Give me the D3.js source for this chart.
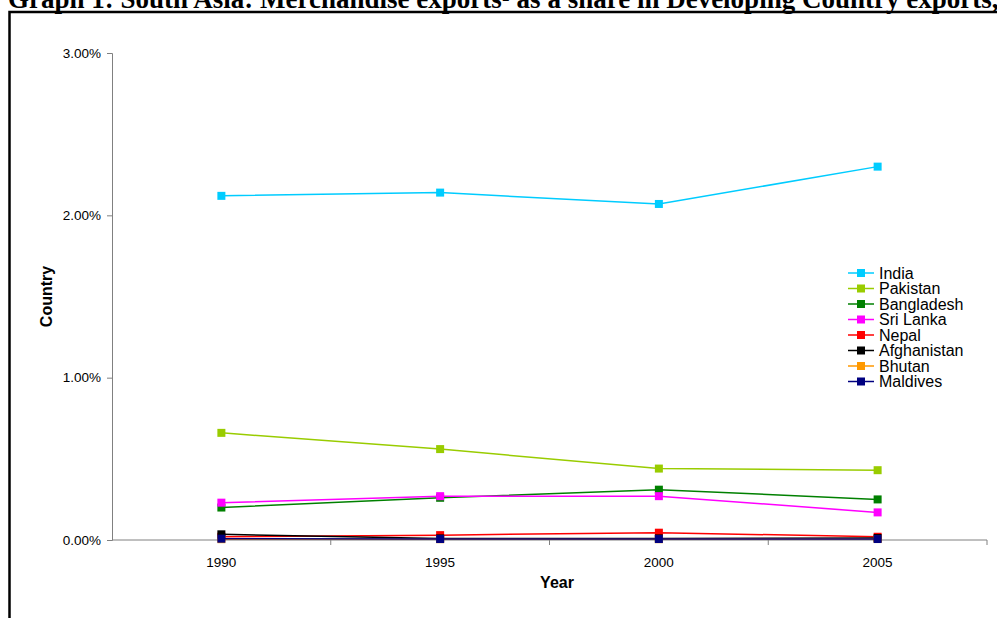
<!DOCTYPE html>
<html>
<head>
<meta charset="utf-8">
<script src="https://cdn.jsdelivr.net/npm/d3@7"></script>
<style>
  html, body { margin: 0; padding: 0; background: #fff; }
  svg { display: block; }
</style>
</head>
<body>
<svg id="chart" width="997" height="618"></svg>
<script>
// Merchandise exports as a share of developing-country exports (%)
const years = ["1990", "1995", "2000", "2005"];
const countries = ["India", "Pakistan", "Bangladesh", "Sri Lanka", "Nepal", "Afghanistan", "Bhutan", "Maldives"];
const india       = [2.12, 2.14, 2.07, 2.30];
const pakistan    = [0.66, 0.56, 0.44, 0.43];
const bangladesh  = [0.20, 0.26, 0.31, 0.25];
const sriLanka    = [0.23, 0.27, 0.27, 0.17];
const nepal       = [0.02, 0.03, 0.045, 0.02];
const afghanistan = [0.035, 0.01, 0.01, 0.012];
const bhutan      = [0.005, 0.005, 0.005, 0.006];
const maldives    = [0.008, 0.006, 0.006, 0.006];
const yTicks = [0, 1, 2, 3];
const colors = ["#00CCFF", "#99CC00", "#008000", "#FF00FF", "#FF0000", "#000000", "#FF9900", "#000080"];

const seriesValues = [india, pakistan, bangladesh, sriLanka, nepal, afghanistan, bhutan, maldives];
const series = countries.map((name, i) => ({ name, color: colors[i], values: seriesValues[i] }));

const svg = d3.select("#chart");

// Page frame
svg.append("path")
  .attr("d", "M9.5,618 V12 H997")
  .attr("fill", "none").attr("stroke", "#000").attr("stroke-width", 2.5);

// Title (runs across the top edge of the page)
svg.append("text")
  .attr("x", 8).attr("y", 8)
  .attr("font-family", "'Liberation Serif', 'Times New Roman', serif")
  .attr("font-weight", "bold").attr("font-size", 27)
  .text("Graph 1: South Asia: Merchandise exports¹ as a share in Developing Country exports,");

const plot = { left: 112, right: 987, top: 53, bottom: 540 };

const x = d3.scaleBand().domain(years).range([plot.left, plot.right]);
const y = d3.scaleLinear().domain([0, 3]).range([plot.bottom, plot.top]);
const xc = d => x(d) + x.bandwidth() / 2;

const font = "'Liberation Sans', Arial, sans-serif";
const axisColor = "#808080";

// Y axis
const yAxis = svg.append("g").attr("transform", `translate(${plot.left},0)`)
  .call(d3.axisLeft(y).tickValues(yTicks).tickSize(5).tickPadding(6)
    .tickFormat(d => d.toFixed(2) + "%"));
yAxis.select(".domain").attr("stroke", axisColor);
yAxis.selectAll(".tick line").attr("stroke", axisColor);
yAxis.selectAll("text").attr("font-family", font).attr("font-size", 13.5).attr("fill", "#000");

// X axis: ticks on band boundaries, labels at band centres
const xAxisG = svg.append("g").attr("transform", `translate(0,${plot.bottom})`);
xAxisG.append("line")
  .attr("x1", plot.left).attr("x2", plot.right)
  .attr("stroke", axisColor);
const boundaries = years.map(d => x(d) + x.bandwidth());
xAxisG.selectAll("line.tk").data(boundaries).join("line").attr("class", "tk")
  .attr("x1", d => d).attr("x2", d => d).attr("y1", 0).attr("y2", 5)
  .attr("stroke", axisColor);
xAxisG.selectAll("text").data(years).join("text")
  .attr("x", d => xc(d)).attr("y", 27)
  .attr("text-anchor", "middle")
  .attr("font-family", font).attr("font-size", 13.5)
  .text(d => d);

// Axis titles
svg.append("text")
  .attr("transform", `translate(52,${(plot.top + plot.bottom) / 2}) rotate(-90)`)
  .attr("text-anchor", "middle")
  .attr("font-family", font).attr("font-weight", "bold").attr("font-size", 16)
  .text("Country");
svg.append("text")
  .attr("x", 557).attr("y", 588)
  .attr("text-anchor", "middle")
  .attr("font-family", font).attr("font-weight", "bold").attr("font-size", 16)
  .text("Year");

// Lines and square markers
const line = d3.line().x((d, i) => xc(years[i])).y(d => y(d));
const m = 8;
series.forEach(s => {
  const g = svg.append("g");
  g.append("path").attr("d", line(s.values))
    .attr("fill", "none").attr("stroke", s.color).attr("stroke-width", 1.5);
  g.selectAll("rect").data(s.values).join("rect")
    .attr("x", (d, i) => xc(years[i]) - m / 2)
    .attr("y", d => y(d) - m / 2)
    .attr("width", m).attr("height", m)
    .attr("fill", s.color);
});

// Legend
const legend = svg.append("g").attr("transform", "translate(848,273)");
series.forEach((s, i) => {
  const row = legend.append("g").attr("transform", `translate(0,${i * 15.5})`);
  row.append("line").attr("x1", 0).attr("x2", 26).attr("stroke", s.color).attr("stroke-width", 1.5);
  row.append("rect").attr("x", 9).attr("y", -4).attr("width", 8).attr("height", 8).attr("fill", s.color);
  row.append("text").attr("x", 31).attr("y", 5.5)
    .attr("font-family", font).attr("font-size", 16)
    .text(s.name);
});
</script>
</body>
</html>
